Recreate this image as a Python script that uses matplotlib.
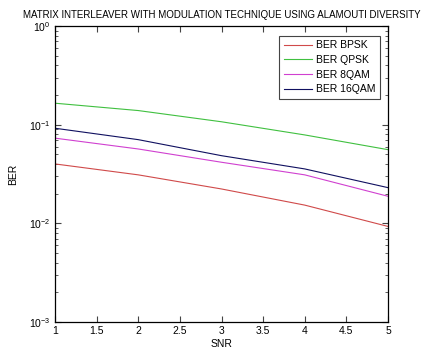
import matplotlib
matplotlib.use('Agg')
import matplotlib.pyplot as plt
from matplotlib.ticker import LogLocator, NullFormatter

snr = [1, 2, 3, 4, 5]
ber_bpsk = [0.040, 0.031, 0.0223, 0.0153, 0.0093]
ber_qpsk = [0.165, 0.139, 0.107, 0.0787, 0.0558]
ber_8qam = [0.073, 0.0567, 0.0416, 0.031, 0.0188]
ber_16qam = [0.092, 0.0705, 0.0485, 0.0356, 0.023]

plt.rcParams['font.family'] = ['Liberation Sans', 'DejaVu Sans']
plt.rcParams['mathtext.fontset'] = 'custom'
plt.rcParams['mathtext.rm'] = 'Liberation Sans'

fig = plt.figure(figsize=(4.25, 3.58), dpi=100)
ax = fig.add_axes([55 / 425, 1 - 322 / 358, 333 / 425, 296 / 358])

ax.semilogy(snr, ber_bpsk, color='#d04a4a', lw=0.8, label='BER BPSK')
ax.semilogy(snr, ber_qpsk, color='#40c040', lw=0.8, label='BER QPSK')
ax.semilogy(snr, ber_8qam, color='#d040d0', lw=0.8, label='BER 8QAM')
ax.semilogy(snr, ber_16qam, color='#101060', lw=0.8, label='BER 16QAM')

ax.set_xlim(1, 5)
ax.set_ylim(1e-3, 1)
ax.set_xticks([1, 1.5, 2, 2.5, 3, 3.5, 4, 4.5, 5])
ax.set_xticklabels(['1', '1.5', '2', '2.5', '3', '3.5', '4', '4.5', '5'])
ax.yaxis.set_major_locator(LogLocator(base=10, numticks=10))
ax.yaxis.set_minor_locator(LogLocator(base=10, subs=range(2, 10), numticks=10))
ax.yaxis.set_minor_formatter(NullFormatter())

ax.tick_params(which='both', direction='in', top=True, right=True,
               labelsize=7.5, color='#444444', pad=3)
ax.tick_params(which='major', length=4)
ax.tick_params(which='minor', length=2)
for s in ax.spines.values():
    s.set_linewidth(0.9)

ax.set_xlabel('SNR', fontsize=7.5, labelpad=2)
ax.set_ylabel('BER', fontsize=7.5, labelpad=8)
ax.set_title('MATRIX INTERLEAVER WITH MODULATION TECHNIQUE USING ALAMOUTI DIVERSITY',
             fontsize=7, pad=6)

leg = ax.legend(loc='upper right', fontsize=7.5, fancybox=False, framealpha=1,
                edgecolor='#444444', borderpad=0.45, labelspacing=0.45,
                handlelength=2.7, handletextpad=0.4,
                bbox_to_anchor=(0.993, 0.985))
leg.get_frame().set_linewidth(0.8)

fig.savefig('out.png', dpi=100, facecolor='white')
